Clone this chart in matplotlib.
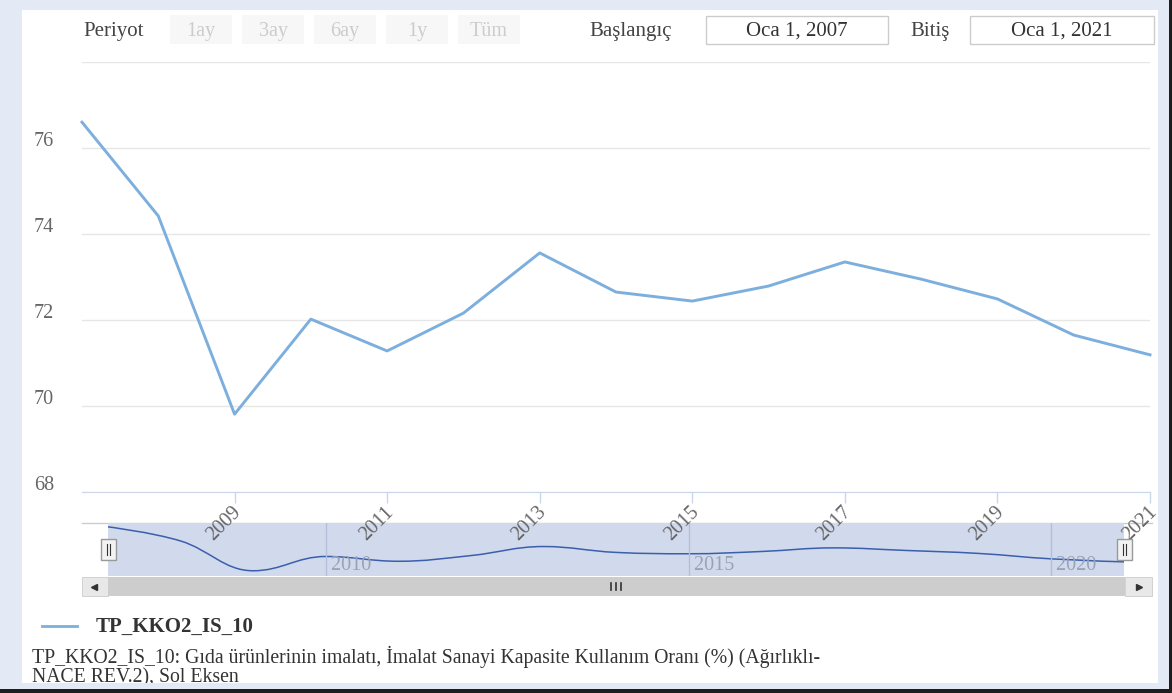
import matplotlib
matplotlib.use("Agg")
import matplotlib.pyplot as plt
from matplotlib.patches import Rectangle, PathPatch
from matplotlib.path import Path
from matplotlib.transforms import ScaledTranslation

plt.rcParams['font.family'] = ['Liberation Serif', 'DejaVu Serif']

# yearly values (Jan 1 of each year)
years = [2007, 2008, 2009, 2010, 2011, 2012, 2013, 2014,
         2015, 2016, 2017, 2018, 2019, 2020, 2021]
values = [76.60, 74.42, 69.81, 72.02, 71.28, 72.16, 73.56, 72.65,
          72.44, 72.79, 73.35, 72.95, 72.49, 71.65, 71.19]
x_ticks = [2009, 2011, 2013, 2015, 2017, 2019, 2021]
y_ticks = [68, 70, 72, 74, 76, 78]
y_labels = ['68', '70', '72', '74', '76', '']
nav_ticks = [2010, 2015, 2020]
range_buttons = ['1ay', '3ay', '6ay', '1y', 'Tüm']
start_date = 'Oca 1, 2007'
end_date = 'Oca 1, 2021'
series_name = 'TP_KKO2_IS_10'
desc_lines = ['TP_KKO2_IS_10: Gıda ürünlerinin imalatı, İmalat Sanayi Kapasite Kullanım Oranı (%) (Ağırlıklı-',
              'NACE REV.2), Sol Eksen']

W, H = 1172, 693
LINE_C = '#7cafdd'
BG_C = '#e4eaf5'
FS = 15

fig = plt.figure(figsize=(W / 100, H / 100), dpi=100)


def px_axes(l, t, r, b):
    return [l / W, 1 - b / H, (r - l) / W, (b - t) / H]


# background / UI layer in pixel coordinates
bg = fig.add_axes([0, 0, 1, 1], zorder=0)
bg.set_xlim(0, W)
bg.set_ylim(H, 0)
bg.axis('off')
bg.add_patch(Rectangle((0, 0), W, H, fc='white', ec='none', zorder=0))

# toolbar
bg.text(83, 36, 'Periyot', fontsize=FS, color='#444444', va='baseline', ha='left')
for i, lab in enumerate(range_buttons):
    x0 = 170 + i * 72
    bg.add_patch(Rectangle((x0, 15), 62, 29, fc='#f7f7f7', ec='none'))
    bg.text(x0 + 31, 36, lab, fontsize=FS - 0.5, color='#cccccc', ha='center', va='baseline')
bg.text(589, 36, 'Başlangıç', fontsize=FS, color='#444444', va='baseline', ha='left')
bg.add_patch(Rectangle((706, 16), 182, 28, fc='white', ec='#cccccc', lw=1))
bg.text(797, 36, start_date, fontsize=FS, color='#333333', ha='center', va='baseline')
bg.text(910, 36, 'Bitiş', fontsize=FS, color='#444444', va='baseline', ha='left')
bg.add_patch(Rectangle((970, 16), 184, 28, fc='white', ec='#cccccc', lw=1))
bg.text(1062, 36, end_date, fontsize=FS, color='#333333', ha='center', va='baseline')

# navigator outline and scrollbar
bg.plot([82, 1152], [523, 523], color='#cccccc', lw=1, zorder=1)
bg.add_patch(Rectangle((82, 577), 26, 19, fc='#e8e8e8', ec='#cccccc', lw=0.6, zorder=1))
bg.add_patch(Rectangle((108, 577), 1017, 19, fc='#cdcdcd', ec='none', zorder=1))
bg.add_patch(Rectangle((1125, 577), 27, 19, fc='#e8e8e8', ec='#cccccc', lw=0.6, zorder=1))
bg.plot([94], [586.5], marker='<', ms=4, color='#333333', zorder=2)
bg.plot([1139], [586.5], marker='>', ms=4, color='#333333', zorder=2)
for gx in (611, 616, 621):
    bg.plot([gx, gx], [583, 590], color='#333333', lw=1.2, zorder=2)

# legend + description
bg.plot([42, 77], [626, 626], color=LINE_C, lw=2.0)
bg.text(96, 632, series_name, fontsize=FS, fontweight='bold', color='#333333', va='baseline')
bg.text(32, 663, desc_lines[0], fontsize=FS - 0.8, color='#333333', va='baseline')
bg.text(32, 682, desc_lines[1], fontsize=FS - 0.8, color='#333333', va='baseline', zorder=1)

# outer frame drawn above the text so it clips the last line
bg.add_patch(Rectangle((0, 0), 22, H, fc=BG_C, ec='none', zorder=5))
bg.add_patch(Rectangle((0, 0), W, 10, fc=BG_C, ec='none', zorder=5))
bg.add_patch(Rectangle((1158, 0), W - 1158, H, fc=BG_C, ec='none', zorder=5))
bg.add_patch(Rectangle((0, 683), W, H - 683, fc=BG_C, ec='none', zorder=5))
bg.add_patch(Rectangle((1169, 0), 3, H, fc='#1e1e1e', ec='none', zorder=6))
bg.add_patch(Rectangle((0, 689), W, 4, fc='#1e1e1e', ec='none', zorder=6))

# navigator
nav = fig.add_axes(px_axes(108, 523, 1124, 576), zorder=2)
nav.set_facecolor('#d1daed')
nav.set_xlim(2007, 2021)
nav.set_ylim(69.0, 77.2)
for s in nav.spines.values():
    s.set_visible(False)
nav.set_xticks([])
nav.set_yticks([])
for t in nav_ticks:
    nav.axvline(t, color='#b3bfd9', lw=1)
    nav.text(t, 69.15, f' {t}', fontsize=FS - 0.5, color='#9aa3b5', ha='left', va='bottom')


def spline_path(xs, ys, smoothing=1.5):
    denom = smoothing + 1
    n = len(xs)
    left = [None] * n
    right = [None] * n
    for i in range(1, n - 1):
        px, py = xs[i], ys[i]
        lx, ly = xs[i - 1], ys[i - 1]
        nx, ny = xs[i + 1], ys[i + 1]
        lcx = (smoothing * px + lx) / denom
        lcy = (smoothing * py + ly) / denom
        rcx = (smoothing * px + nx) / denom
        rcy = (smoothing * py + ny) / denom
        corr = ((rcy - lcy) * (rcx - px)) / (rcx - lcx) + py - rcy
        lcy += corr
        rcy += corr
        if lcy > ly and lcy > py:
            lcy = max(ly, py); rcy = 2 * py - lcy
        elif lcy < ly and lcy < py:
            lcy = min(ly, py); rcy = 2 * py - lcy
        if rcy > ny and rcy > py:
            rcy = max(ny, py); lcy = 2 * py - rcy
        elif rcy < ny and rcy < py:
            rcy = min(ny, py); lcy = 2 * py - rcy
        left[i] = (lcx, lcy)
        right[i] = (rcx, rcy)
    verts = [(xs[0], ys[0])]
    codes = [Path.MOVETO]
    for i in range(1, n):
        c1 = right[i - 1] or (xs[i - 1], ys[i - 1])
        c2 = left[i] or (xs[i], ys[i])
        verts += [c1, c2, (xs[i], ys[i])]
        codes += [Path.CURVE4] * 3
    return Path(verts, codes)


nav.add_patch(PathPatch(spline_path(years, values), fc='none', ec='#3b5ead', lw=1.1))

# main chart
ax = fig.add_axes(px_axes(82, 62, 1150, 492), zorder=3)
ax.set_facecolor('none')
ax.plot(years, values, color=LINE_C, lw=2.1, clip_on=False)
ax.set_xlim(2007, 2021)
ax.set_ylim(68, 78)
for s in ('top', 'right', 'left'):
    ax.spines[s].set_visible(False)
ax.spines['bottom'].set_color('#ccd6eb')
ax.set_yticks(y_ticks)
ax.set_yticklabels(y_labels)
ax.yaxis.grid(True, color='#e6e6e6', lw=1)
ax.tick_params(axis='y', length=0, pad=20, labelsize=FS - 0.5, labelcolor='#666666')
ax.set_xticks(x_ticks)
ax.set_xticklabels([str(t) for t in x_ticks])
ax.tick_params(axis='x', length=8, width=1, color='#ccd6eb', direction='out',
               pad=4, labelsize=FS - 0.5, labelcolor='#666666')
for lab in ax.get_xticklabels():
    lab.set_rotation(45)
    lab.set_ha('right')
    lab.set_va('center')
    lab.set_rotation_mode('anchor')
    lab.set_transform(lab.get_transform() + ScaledTranslation(0.04, -0.01, fig.dpi_scale_trans))
for lab in ax.get_yticklabels():
    lab.set_va('baseline')
    lab.set_transform(lab.get_transform() + ScaledTranslation(0, 0.02, fig.dpi_scale_trans))

# navigator handles, drawn above everything in pixel coords
for hx in (108, 1124):
    ax.add_patch(Rectangle((hx - 7.5, 539), 15, 21, fc='#f2f2f2', ec='#999999', lw=1,
                           transform=bg.transData, clip_on=False, zorder=5))
    for dx in (-1.5, 1.5):
        ax.plot([hx + dx, hx + dx], [544, 555], color='#333333', lw=0.8,
                transform=bg.transData, clip_on=False, zorder=6)

fig.savefig('out.png', dpi=100)
